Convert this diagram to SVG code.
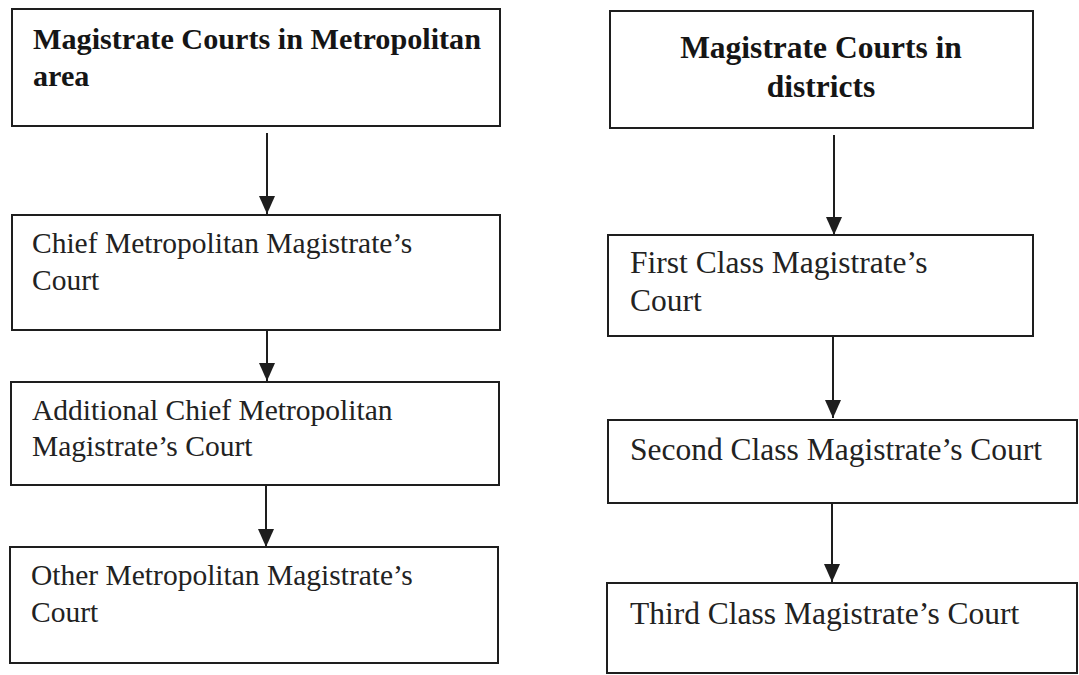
<svg xmlns="http://www.w3.org/2000/svg" width="1079" height="675" viewBox="0 0 1079 675">
  <style>
    .box { fill: #ffffff; stroke: #1e1e1e; stroke-width: 2; }
    .t { font-family: "Liberation Serif", "Times New Roman", serif; fill: #222222; }
    .l { font-size: 29.5px; }
    .r { font-size: 31.5px; }
    .lb { font-size: 30.2px; }
    .b { font-weight: bold; fill: #151515; }
    .conn { stroke: #1e1e1e; stroke-width: 2; fill: none; marker-end: url(#arr); }
  </style>
  <defs>
    <marker id="arr" viewBox="0 0 18 16" refX="18" refY="8" markerWidth="18" markerHeight="16" markerUnits="userSpaceOnUse" orient="auto">
      <path d="M0,0 L18,8 L0,16 z" fill="#1e1e1e"/>
    </marker>
  </defs>
  <rect x="0" y="0" width="1079" height="675" fill="#ffffff"/>

  <g id="metro-title">
    <rect class="box" x="12" y="9" width="488" height="117"/>
    <text class="t lb b" x="33" y="49">Magistrate Courts in Metropolitan</text>
    <text class="t lb b" x="33" y="86">area</text>
  </g>
  <g id="chief-metro">
    <rect class="box" x="12" y="215" width="488" height="115"/>
    <text class="t l" x="32" y="253">Chief Metropolitan Magistrate’s</text>
    <text class="t l" x="32" y="290">Court</text>
  </g>
  <g id="addl-chief-metro">
    <rect class="box" x="11" y="382" width="488" height="103"/>
    <text class="t l" x="32" y="420">Additional Chief Metropolitan</text>
    <text class="t l" x="32" y="456">Magistrate’s Court</text>
  </g>
  <g id="other-metro">
    <rect class="box" x="10" y="547" width="488" height="116"/>
    <text class="t l" x="31" y="585">Other Metropolitan Magistrate’s</text>
    <text class="t l" x="31" y="622">Court</text>
  </g>

  <g id="district-title">
    <rect class="box" x="610" y="11" width="423" height="117"/>
    <text class="t r b" x="821" y="58" text-anchor="middle">Magistrate Courts in</text>
    <text class="t r b" x="821" y="97" text-anchor="middle">districts</text>
  </g>
  <g id="first-class">
    <rect class="box" x="608" y="235" width="425" height="101"/>
    <text class="t r" x="630" y="273">First Class Magistrate’s</text>
    <text class="t r" x="630" y="311">Court</text>
  </g>
  <g id="second-class">
    <rect class="box" x="608" y="420" width="469" height="83"/>
    <text class="t r" x="630" y="460">Second Class Magistrate’s Court</text>
  </g>
  <g id="third-class">
    <rect class="box" x="607" y="583" width="470" height="90"/>
    <text class="t r" x="630" y="624">Third Class Magistrate’s Court</text>
  </g>

  <g id="connectors">
    <line class="conn" x1="267" y1="133" x2="267" y2="214"/>
    <line class="conn" x1="267" y1="330" x2="267" y2="381"/>
    <line class="conn" x1="266" y1="485" x2="266" y2="547"/>
    <line class="conn" x1="834" y1="135" x2="834" y2="235"/>
    <line class="conn" x1="833" y1="336" x2="833" y2="418"/>
    <line class="conn" x1="832" y1="503" x2="832" y2="582"/>
  </g>
</svg>
